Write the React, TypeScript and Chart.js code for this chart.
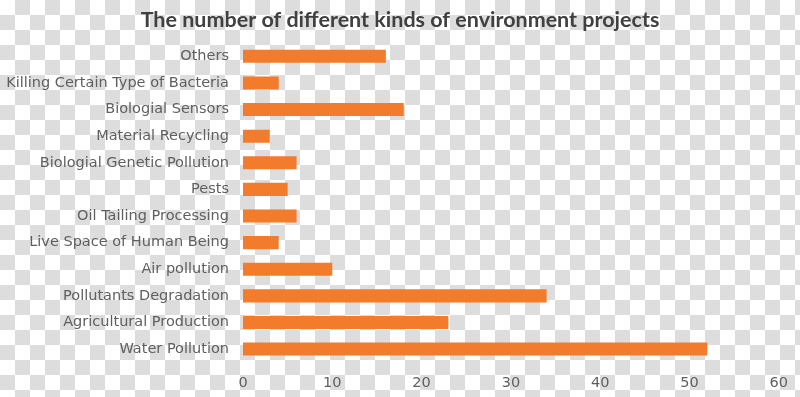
import React, { useEffect, useRef } from "react";
import { Chart, registerables } from "chart.js";

Chart.register(...registerables);

const categories = [
  "Others",
  "Killing Certain Type of Bacteria",
  "Biologial Sensors",
  "Material Recycling",
  "Biologial Genetic Pollution",
  "Pests",
  "Oil Tailing Processing",
  "Live Space of Human Being",
  "Air pollution",
  "Pollutants Degradation",
  "Agricultural Production",
  "Water Pollution",
];

const projectCounts = [16, 4, 18, 3, 6, 5, 6, 4, 10, 34, 23, 52];

const xTicks = [0, 10, 20, 30, 40, 50, 60];

const titleText = "The number of different kinds of environment projects";

const labelFont = "'DejaVu Sans', sans-serif";

const checkerPlugin = {
  id: "checker",
  beforeDraw(chart: any) {
    const { ctx, width, height } = chart;
    const s = 15;
    ctx.save();
    ctx.fillStyle = "#ffffff";
    ctx.fillRect(0, 0, width, height);
    ctx.fillStyle = "#dddddd";
    for (let r = 0; r * s < height; r++) {
      for (let c = 0; c * s < width; c++) {
        if ((r + c) % 2 === 1) ctx.fillRect(c * s, r * s, s, s);
      }
    }
    ctx.restore();
  },
};

// centre the title across the full canvas width
const titleCenterPlugin = {
  id: "titleCenter",
  afterLayout(chart: any) {
    const tb = chart.titleBlock;
    if (tb) {
      tb.left = 0;
      tb.right = chart.width;
      tb.width = chart.width;
    }
  },
};

export default function App() {
  const ref = useRef<HTMLCanvasElement | null>(null);

  useEffect(() => {
    document.body.style.margin = "0";
    const canvas = ref.current;
    if (!canvas) return;
    const chart = new Chart(canvas, {
      type: "bar",
      data: {
        labels: categories,
        datasets: [
          {
            data: projectCounts,
            backgroundColor: "#F27B2C",
            borderWidth: 0,
            barPercentage: 0.49,
            categoryPercentage: 1,
          },
        ],
      },
      plugins: [checkerPlugin, titleCenterPlugin],
      options: {
        indexAxis: "y",
        animation: false,
        responsive: false,
        maintainAspectRatio: false,
        layout: { padding: { top: 0, right: 18, bottom: 0, left: 0 } },
        plugins: {
          legend: { display: false },
          tooltip: { enabled: false },
          title: {
            display: true,
            text: titleText,
            color: "#404040",
            font: { family: "Lato, 'Open Sans', sans-serif", size: 21.5, weight: "bold" },
            padding: { top: 7.6, bottom: 9.6 },
          },
        },
        scales: {
          x: {
            min: 0,
            max: 60,
            afterBuildTicks: (scale: any) => {
              scale.ticks = xTicks.map((v) => ({ value: v }));
            },
            afterFit: (scale: any) => {
              scale.height = 34.6;
            },
            grid: { display: false, drawTicks: false },
            border: { display: false },
            ticks: {
              color: "#5f5f5f",
              padding: 12,
              font: { family: labelFont, size: 14.5 },
            },
          },
          y: {
            afterFit: (scale: any) => {
              scale.width = 243;
            },
            grid: { display: false, drawTicks: false },
            border: { display: false },
            ticks: {
              color: "#5f5f5f",
              padding: 14,
              font: { family: labelFont, size: 14.5 },
            },
          },
        },
      },
    });
    return () => chart.destroy();
  }, []);

  return (
    <div style={{ width: 800, height: 397 }}>
      <canvas ref={ref} width={800} height={397} style={{ display: "block" }} />
    </div>
  );
}
